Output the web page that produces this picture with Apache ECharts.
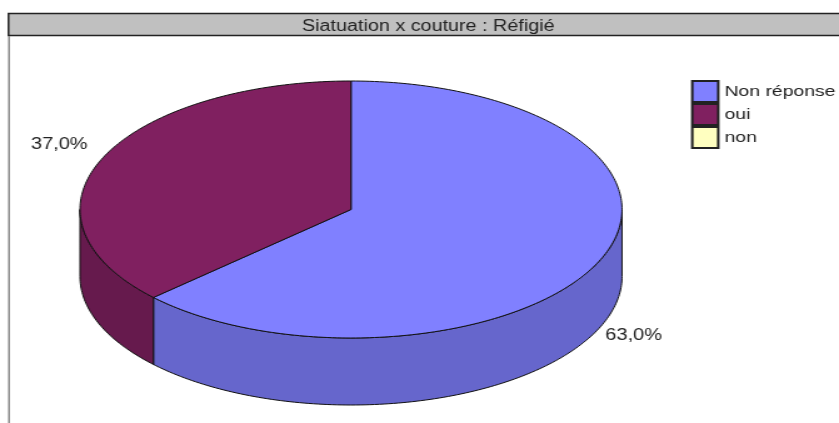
<!DOCTYPE html>
<html>
<head>
<meta charset="utf-8">
<title>Siatuation x couture : Réfigié</title>
<script src="https://cdn.jsdelivr.net/npm/echarts@6/dist/echarts.min.js"></script>
<style>
    html, body { margin: 0; padding: 0; background: #fff; overflow: hidden; }
    /* the source picture is a scan stretched sideways, text included */
    #chart { width: 671px; height: 423px; transform: scaleX(1.2504); transform-origin: 0 0; }
</style>
</head>
<body>
<div id="chart"></div>
<script>
const chartTitle = 'Siatuation x couture : Réfigié';
const categories = ['Non réponse', 'oui', 'non'];
const shares = [63.0, 37.0, 0];
const topColors = ['#8080FF', '#802060', '#FFFFC0'];
const sideColors = ['#6666CC', '#661A4D', '#CCCC99'];
const labelOffsets = [[34, 75], [-43, -14], [0, 0]];

const STRETCH = 1.2504;
const sx = (x) => x / STRETCH;
const FONT = '"Liberation Sans", Arial, sans-serif';
const CX = 351, CY = 209.5, RX = 271, RY = 128.5, DEPTH = 67;

const total = shares.reduce((a, b) => a + b, 0);
const rad = (deg) => (deg * Math.PI) / 180;
const rimPoint = (deg, drop) => [
    sx(CX + RX * Math.sin(rad(deg))),
    CY - RY * Math.cos(rad(deg)) + drop,
];
function arc(from, to, drop) {
    const pts = [];
    for (let d = from; d < to; d += 1) pts.push(rimPoint(d, drop));
    pts.push(rimPoint(to, drop));
    return pts;
}

function renderSlice(index) {
    return (params, api) => {
        const value = api.value(0);
        if (!value) return null;
        const before = shares.slice(0, index).reduce((a, b) => a + b, 0);
        const start = (before / total) * 360;
        const end = ((before + value) / total) * 360;
        const mid = (start + end) / 2;
        const edge = { stroke: '#111', lineWidth: 1, lineJoin: 'round' };
        const children = [];

        // the wall only shows on the front half of the disc
        const wallFrom = Math.max(start, 90);
        const wallTo = Math.min(end, 270);
        if (wallTo > wallFrom) {
            children.push({
                type: 'polygon',
                shape: { points: arc(wallFrom, wallTo, 0).concat(arc(wallFrom, wallTo, DEPTH).reverse()) },
                style: { fill: sideColors[index], ...edge },
            });
        }
        children.push({
            type: 'polygon',
            shape: { points: [[sx(CX), CY]].concat(arc(start, end, 0)) },
            style: { fill: topColors[index], ...edge },
        });
        const anchor = rimPoint(mid, 0);
        children.push({
            type: 'text',
            style: {
                text: value.toFixed(1).replace('.', ',') + '%',
                x: anchor[0] + sx(labelOffsets[index][0]),
                y: anchor[1] + labelOffsets[index][1],
                fill: '#222',
                font: '16px ' + FONT,
                align: 'center',
                verticalAlign: 'middle',
            },
        });
        return { type: 'group', children };
    };
}

const myChart = echarts.init(document.getElementById('chart'));
myChart.setOption({
    animation: false,
    backgroundColor: '#fff',
    title: {
        text: chartTitle,
        left: sx(422),
        top: 14,
        textAlign: 'center',
        textStyle: { color: '#222', fontFamily: FONT, fontSize: 15.8, fontWeight: 'normal' },
    },
    legend: {
        data: categories,
        orient: 'vertical',
        left: sx(691),
        top: 80,
        padding: 0,
        itemWidth: sx(26),
        itemHeight: 21,
        itemGap: 0,
        icon: 'rect',
        selectedMode: false,
        itemStyle: { borderColor: '#222', borderWidth: 2 },
        textStyle: { color: '#222', fontFamily: FONT, fontSize: 15.5, lineHeight: 16 },
    },
    graphic: [
        {
            type: 'rect',
            z: -1,
            shape: { x: sx(8.5), y: 13.5, width: sx(850), height: 22 },
            style: { fill: '#C0C0C0', stroke: '#222', lineWidth: 1.5 },
        },
        {
            type: 'line',
            z: -1,
            shape: { x1: sx(9), y1: 36, x2: sx(9), y2: 423 },
            style: { stroke: '#888', lineWidth: 1.5 },
        },
    ],
    series: categories.map((name, i) => ({
        name,
        type: 'custom',
        coordinateSystem: 'none',
        silent: true,
        itemStyle: { color: topColors[i] },
        renderItem: renderSlice(i),
        data: [shares[i]],
    })),
});
</script>
</body>
</html>
